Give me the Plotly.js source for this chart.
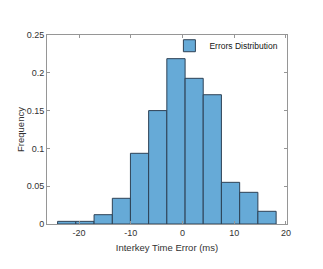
<!DOCTYPE html>
<html>
<head>
<meta charset="utf-8">
<script src="https://cdn.plot.ly/plotly-3.0.1.min.js"></script>
<style>html,body{margin:0;padding:0;background:#fff;}#chart{width:323px;height:269px;}</style>
</head>
<body>
<div id="chart"></div>
<script>
// Histogram bin edges (ms) and normalized frequencies
const binEdges = [-24.15, -20.63, -17.10, -13.57, -10.07, -6.55, -3.03, 0.50, 4.00, 7.52, 11.05, 14.57, 18.10];
const frequency = [0.0035, 0.0035, 0.0123, 0.034, 0.0935, 0.150, 0.2187, 0.1927, 0.171, 0.0551, 0.0419, 0.0168];
const seriesName = 'Errors Distribution';
const xTicks = [-20, -10, 0, 10, 20];
const xTickText = ['-20', '-10', '0', '10', '20'];
const yTicks = [0, 0.05, 0.1, 0.15, 0.2, 0.25];
const yTickText = ['0', '0.05', '0.1', '0.15', '0.2', '0.25'];

const centers = frequency.map((_, i) => (binEdges[i] + binEdges[i + 1]) / 2);
const widths = frequency.map((_, i) => binEdges[i + 1] - binEdges[i]);

const axisCol = 'rgb(150,150,150)';
const textCol = 'rgb(50,50,50)';
const fontFam = 'Liberation Sans, Arial, sans-serif';

const trace = {
  type: 'bar',
  x: centers,
  y: frequency,
  width: widths,
  name: seriesName,
  showlegend: true,
  marker: {color: 'rgb(102,170,215)', line: {color: 'rgb(45,65,85)', width: 1}}
};

const layout = {
  width: 323, height: 269,
  margin: {l: 47, r: 36, t: 35, b: 45, pad: 0},
  paper_bgcolor: '#fff', plot_bgcolor: '#fff',
  font: {family: fontFam, size: 9, color: textCol},
  bargap: 0,
  showlegend: true,
  legend: {x: 0.985, y: 1.02, xanchor: 'right', yanchor: 'top', bgcolor: 'rgba(255,255,255,0)',
           borderwidth: 0, font: {size: 8.5, color: 'rgb(20,20,20)'}, itemwidth: 30},
  xaxis: {
    range: [-26.2, 20.2], tickvals: xTicks, ticktext: xTickText, ticks: 'inside', ticklen: 3, tickcolor: axisCol,
    showline: true, linecolor: axisCol, linewidth: 1, mirror: 'ticks', showgrid: false, zeroline: false,
    tickfont: {size: 9, color: textCol},
    title: {text: 'Interkey Time Error (ms)', font: {size: 9.5, color: textCol}, standoff: 7}
  },
  yaxis: {
    range: [0, 0.25], tickvals: yTicks, ticktext: yTickText, ticks: 'inside', ticklen: 3, tickcolor: axisCol,
    showline: true, linecolor: axisCol, linewidth: 1, mirror: 'ticks', showgrid: false, zeroline: false,
    tickfont: {size: 9, color: textCol},
    title: {text: 'Frequency', font: {size: 9.5, color: textCol}, standoff: 0}
  }
};

Plotly.newPlot('chart', [trace], layout, {staticPlot: true, displayModeBar: false});
</script>
</body>
</html>
